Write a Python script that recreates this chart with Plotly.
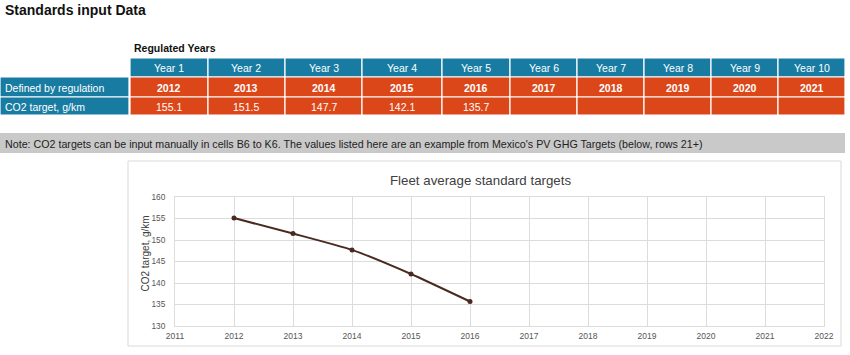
import plotly.graph_objects as go

# ---- data ----
year_labels = ["Year 1", "Year 2", "Year 3", "Year 4", "Year 5",
               "Year 6", "Year 7", "Year 8", "Year 9", "Year 10"]
reg_years = [2012, 2013, 2014, 2015, 2016, 2017, 2018, 2019, 2020, 2021]
co2_targets = [155.1, 151.5, 147.7, 142.1, 135.7, None, None, None, None, None]
row_labels = ["Defined by regulation", "CO2 target, g/km"]

# ---- layout helpers ----
W, H = 850, 355
BLUE = "#187ca2"
ORANGE = "#dc471a"
FONT = "Liberation Sans, Arial, Helvetica, sans-serif"


def px(x):
    return x / W


def py(y):
    return 1 - y / H


col_edges = [130, 208, 285, 362, 442, 510, 577, 644, 711, 778, 845]
row_edges = [58, 77, 97, 115]

shapes = []
annotations = []


def rect(x0, y0, x1, y1, fill, line="white", lw=1.2):
    shapes.append(dict(type="rect", xref="paper", yref="paper",
                       x0=px(x0), x1=px(x1), y0=py(y1), y1=py(y0),
                       fillcolor=fill, line=dict(color=line, width=lw),
                       layer="below"))


def text(x, y, s, size=10.5, color="white", bold=False, xanchor="center", angle=0):
    annotations.append(dict(xref="paper", yref="paper", x=px(x), y=py(y),
                            text=(f"<b>{s}</b>" if bold else s), showarrow=False,
                            xanchor=xanchor, yanchor="middle", textangle=angle,
                            font=dict(family=FONT, size=size, color=color)))


# page title
text(3, 10, "Standards input Data", size=14, color="#111", bold=True, xanchor="left")
text(132, 48, "Regulated Years", size=10.5, color="#111", bold=True, xanchor="left")

# header row
for i, lab in enumerate(year_labels):
    x0, x1 = col_edges[i], col_edges[i + 1]
    rect(x0, row_edges[0], x1, row_edges[1], BLUE)
    text((x0 + x1) / 2, (row_edges[0] + row_edges[1]) / 2 + 0.5, lab, size=10.5)

# row label cells
for r, lab in enumerate(row_labels):
    y0, y1 = row_edges[r + 1], row_edges[r + 2]
    rect(0, y0, 129, y1, BLUE)
    text(3, (y0 + y1) / 2 + 0.5, lab, size=10.5, xanchor="left")

# data cells
for i in range(len(year_labels)):
    x0, x1 = col_edges[i], col_edges[i + 1]
    y0, y1 = row_edges[1], row_edges[2]
    rect(x0, y0, x1, y1, ORANGE)
    text((x0 + x1) / 2, (y0 + y1) / 2 + 0.5, str(reg_years[i]), size=10.5, bold=True)
    y0, y1 = row_edges[2], row_edges[3]
    rect(x0, y0, x1, y1, ORANGE)
    if co2_targets[i] is not None:
        text((x0 + x1) / 2, (y0 + y1) / 2 + 0.5, f"{co2_targets[i]:.1f}", size=10.5)

# note band
rect(0, 133, 845, 153, "#c9c9c9", line="#c9c9c9", lw=0)
text(3, 143.5,
     "Note: CO2 targets can be input manually in cells B6 to K6. The values listed here are an example from Mexico's PV GHG Targets (below, rows 21+)",
     size=10.7, color="#222", xanchor="left")

# chart box
rect(128, 161, 841, 346, "white", line="#d9d9d9", lw=1)
text(480, 180, "Fleet average standard targets", size=13.3, color="#404040")
text(144.5, 254, "CO2 target, g/km", size=10, color="#404040", angle=-90)

chart_x = [y for y, v in zip(reg_years, co2_targets) if v is not None]
chart_y = [v for v in co2_targets if v is not None]

fig = go.Figure()
fig.add_trace(go.Scatter(
    x=chart_x, y=chart_y, mode="lines+markers",
    line=dict(color="#4a2a20", width=2, shape="spline", smoothing=0.5),
    marker=dict(color="#4a2a20", size=5),
    showlegend=False, hoverinfo="x+y",
))

fig.update_layout(
    width=W, height=H,
    margin=dict(l=0, r=0, t=0, b=0, pad=0, autoexpand=False),
    paper_bgcolor="white", plot_bgcolor="white",
    shapes=shapes, annotations=annotations,
    font=dict(family=FONT),
    showlegend=False,
    xaxis=dict(domain=[px(175), px(824)], range=[2011, 2022], dtick=1,
               tick0=2011, showgrid=True, gridcolor="#dcdcdc", gridwidth=1,
               showline=True, linecolor="#dcdcdc", mirror=True, zeroline=False,
               automargin=False, ticklabelstandoff=2,
               tickfont=dict(size=8.5, color="#555"), ticks="", fixedrange=True),
    yaxis=dict(domain=[py(326), py(197)], range=[130, 160], dtick=5,
               showgrid=True, gridcolor="#dcdcdc", gridwidth=1,
               showline=True, linecolor="#dcdcdc", mirror=True, zeroline=False,
               automargin=False,
               tickfont=dict(size=8.3, color="#555"), ticks="", ticklabelstandoff=7,
               fixedrange=True),
)

fig.write_html("out.html", config={"displayModeBar": False},
               post_script="document.body.style.margin='0px';document.body.style.overflow='hidden';")
